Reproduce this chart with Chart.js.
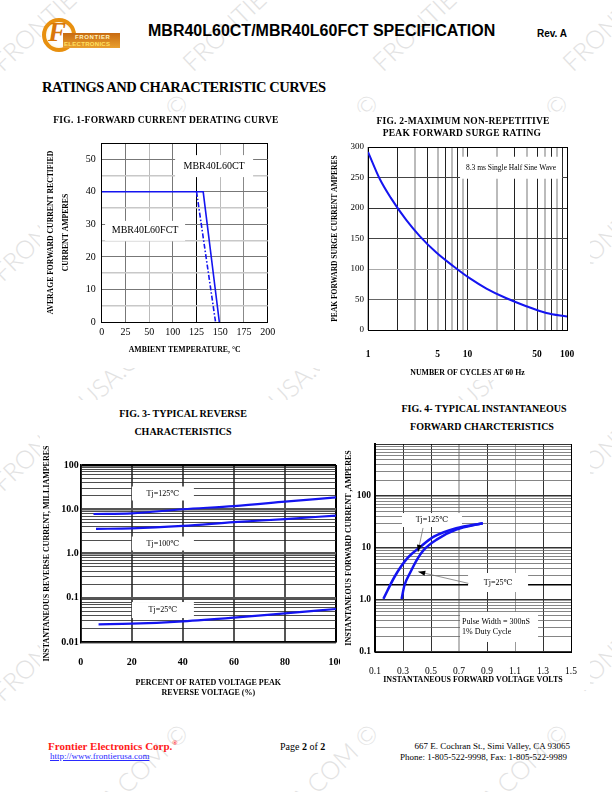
<!DOCTYPE html>
<html>
<head>
<meta charset="utf-8">
<script src="https://cdn.jsdelivr.net/npm/chart.js@4.4.1/dist/chart.umd.min.js"></script>
<style>
  body { margin: 0; width: 612px; height: 792px; position: relative; overflow: hidden; background: #fff; font-family: "Liberation Serif", serif; color: #000; }
  .t { position: absolute; white-space: nowrap; line-height: 1; z-index: 3; }
  .c { text-align: center; }
  canvas { position: absolute; background: #fff; z-index: 2; }
  .wm { position: absolute; white-space: nowrap; font: 300 25px/1 Lato, sans-serif; color: #e2e2e2; transform: rotate(-43.5deg); transform-origin: 0 100%; z-index: 0; }
  .panel { position: absolute; background: #fff; z-index: 1; }
  .ft { font: bold 9.5px/1 "Liberation Serif"; letter-spacing: 0.25px; }
  .ft2 { font: bold 10px/1 "Liberation Serif"; }
</style>
</head>
<body>
<div id="wm"></div>
<div class="panel" style="left:40px;top:112px;width:538px;height:256px;"></div>
<div class="panel" style="left:40px;top:400px;width:538px;height:302px;"></div>

<!-- header -->
<div style="position:absolute;z-index:3;left:42px;top:18px;width:26px;height:26px;border-radius:50%;border:4.5px solid #e8900f;background:radial-gradient(circle,#fff 0 55%,#fde7b0 100%);"></div>
<div class="t" style="left:48px;top:19px;font:italic bold 27px/1 'Liberation Serif';color:#d9770a;">F</div>
<div style="position:absolute;z-index:3;left:63px;top:33px;width:57px;height:15px;background:linear-gradient(#c86a10,#e9a030);"></div>
<div class="t" style="left:75px;top:34px;font:bold 6px/1 'Liberation Sans';color:#fff4c0;letter-spacing:0.6px;">FRONTIER</div>
<div class="t" style="left:64px;top:41px;font:bold 6px/1 'Liberation Sans';color:#ffe060;letter-spacing:0.3px;">ELECTRONICS</div>
<div class="t" style="left:148px;top:22.5px;font:bold 16px/1 'Liberation Sans';">MBR40L60CT/MBR40L60FCT SPECIFICATION</div>
<div class="t" style="left:537px;top:28.5px;font:bold 10px/1 'Liberation Sans';">Rev. A</div>
<div class="t" style="left:42px;top:80px;font:bold 14.5px/1 'Liberation Serif';letter-spacing:-0.45px;">RATINGS AND CHARACTERISTIC CURVES</div>

<!-- figure titles -->
<div class="t c ft" style="left:46px;width:240px;top:116px;">FIG. 1-FORWARD CURRENT DERATING CURVE</div>
<div class="t c ft" style="left:343px;width:240px;top:117px;">FIG. 2-MAXIMUM NON-REPETITIVE</div>
<div class="t c ft" style="left:342px;width:240px;top:128.5px;">PEAK FORWARD SURGE RATING</div>
<div class="t c ft2" style="left:63px;width:240px;top:409px;">FIG. 3- TYPICAL REVERSE</div>
<div class="t c ft2" style="left:63px;width:240px;top:426.6px;">CHARACTERISTICS</div>
<div class="t c ft2" style="left:364px;width:240px;top:403.6px;">FIG. 4- TYPICAL INSTANTANEOUS</div>
<div class="t c ft2" style="left:362px;width:240px;top:421.6px;">FORWARD CHARCTERISTICS</div>

<canvas id="fig1" width="240" height="225" style="left:40px;top:135px;"></canvas>
<canvas id="fig2" width="270" height="240" style="left:320px;top:140px;"></canvas>
<canvas id="fig4" width="250" height="255" style="left:340px;top:435px;"></canvas>
<canvas id="fig3" width="300" height="260" style="left:40px;top:440px;"></canvas>

<!-- footer -->
<div class="t" style="left:48px;top:740.8px;font:bold 11px/1 'Liberation Serif';color:#ff1a1a;">Frontier Electronics Corp.<span style="font-size:7px;position:relative;top:-5px;">®</span></div>
<div class="t" style="left:50px;top:752.4px;font:9px/1 'Liberation Serif';color:#2a2aff;text-decoration:underline;">http://www.frontierusa.com</div>
<div class="t" style="left:280px;top:741.6px;font:10px/1 'Liberation Serif';">Page <b>2</b> of <b>2</b></div>
<div class="t" style="right:42px;top:742.4px;font:9px/1 'Liberation Serif';text-align:right;">667 E. Cochran St., Simi Valley, CA 93065</div>
<div class="t" style="right:45px;top:753.4px;font:9px/1 'Liberation Serif';text-align:right;">Phone: 1-805-522-9998, Fax: 1-805-522-9989</div>

<script>
// Fig. 1 - forward current derating (x labels as printed, 75 is missing)
const deratingTicks = [0, 25, 50, 100, 125, 150, 175, 200];
const ctTemp = [0, 132, 149];
const ctAmps = [40, 40, 0];
const fctTemp = [125, 145];
const fctAmps = [40, 0];

// Fig. 2 - peak forward surge rating
const surgeCycles = [1, 1.31, 1.69, 2.43, 3.31, 4.86, 7.16, 10.5, 15.5, 24.6, 39, 62, 100];
const surgeAmps = [292, 248, 217, 180, 154, 127, 105, 85, 68, 52, 39, 28, 22];
const surgeXLabels = [1, 5, 10, 50, 100];

// Fig. 3 - typical reverse characteristics (mA vs % of rated voltage)
const rev125Pct = [5, 20, 40, 60, 80, 100];
const rev125mA = [7.8, 8.1, 10.0, 11.8, 14.8, 18.6];
const rev100Pct = [6, 20, 40, 60, 80, 100];
const rev100mA = [3.6, 3.7, 4.2, 5.1, 6.0, 7.2];
const rev25Pct = [7, 20, 40, 60, 80, 100];
const rev25mA = [0.0251, 0.0259, 0.0293, 0.0355, 0.0445, 0.0557];
const revXLabels = ['0', '20', '40', '60', '80', '100'];
const revYTicks = [0.01, 0.1, 1, 10, 100];
const revYLabels = ['0.01', '0.1', '1.0', '10.0', '100'];

// Fig. 4 - typical instantaneous forward characteristics
const fwd125V = [0.16, 0.24, 0.33, 0.42, 0.52, 0.68, 0.87];
const fwd125A = [1.05, 2.8, 6.3, 10.3, 16.5, 24, 29.9];
const fwd25V = [0.29, 0.31, 0.35, 0.40, 0.45, 0.54, 0.68, 0.87];
const fwd25A = [1.05, 1.9, 3.3, 6.0, 9.3, 14.5, 22.5, 29.9];
const fwdXTicks = [0.1, 0.3, 0.5, 0.7, 0.9, 1.1, 1.3, 1.5];
const fwdYTicks = [0.1, 1, 10, 100];
const fwdYLabels = ['0.1', '1.0', '10', '100'];

const blue = '#1414f0';
const logMinor = [1, 2, 3, 4, 5, 6, 7, 8, 9];

// watermark
const wm = document.getElementById('wm');
for (let i = 0; i < 4; i++) {
    for (let j = -1; j < 4; j++) {
        const s = document.createElement('div');
        s.className = 'wm';
        s.textContent = 'FRONTIERUSA.COM ©';
        s.style.left = (5 + 190 * i) + 'px';
        s.style.top = (285 + 210 * j - 25) + 'px';
        wm.appendChild(s);
    }
}

Chart.defaults.font.family = "'Liberation Serif', 'DejaVu Serif', serif";
Chart.defaults.color = '#000';

// gridline values of a log axis: 1..9 of every decade, plus the top
function logGrid(lo, hi) {
    const out = [];
    for (let d = lo; d < hi; d *= 10) {
        logMinor.forEach(m => out.push(+(d * m).toPrecision(3)));
    }
    out.push(hi);
    return out;
}

// place a temperature on the printed (uneven) tick grid of fig. 1
function toGrid(t) {
    for (let i = 0; i < deratingTicks.length - 1; i++) {
        const a = deratingTicks[i], b = deratingTicks[i + 1];
        if (t <= b) return i + (t - a) / (b - a);
    }
    return deratingTicks.length - 1;
}

function pts(xs, ys, fx) {
    return xs.map((v, i) => ({ x: fx ? fx(v) : v, y: ys[i] }));
}

function noPad(s) {
    s.paddingLeft = s.paddingRight = s.paddingTop = s.paddingBottom = 0;
}

// labels in white boxes, arrows
const notes = {
    id: 'notes',
    beforeDatasetsDraw(chart, args, o) {
        const { ctx, scales: { x, y } } = chart;
        const size = o.size || 8;
        ctx.save();
        for (const b of o.boxes || []) {
            const px = x.getPixelForValue(b.x), py = y.getPixelForValue(b.y);
            ctx.fillStyle = '#fff';
            ctx.fillRect(px - b.w / 2, py - b.h / 2, b.w, b.h);
            ctx.fillStyle = '#000';
            ctx.font = size + "px 'Liberation Serif', 'DejaVu Serif'";
            ctx.textBaseline = 'middle';
            const lines = [].concat(b.text);
            lines.forEach((t, i) => {
                const ty = py + (i - (lines.length - 1) / 2) * size * 1.35;
                if (b.left) {
                    ctx.textAlign = 'left';
                    ctx.fillText(t, px - b.w / 2 + 2, ty);
                } else {
                    ctx.textAlign = 'center';
                    ctx.fillText(t, px, ty);
                }
            });
        }
        ctx.restore();
    },
    afterDatasetsDraw(chart, args, o) {
        const { ctx, scales: { x, y } } = chart;
        ctx.save();
        for (const a of o.arrows || []) {
            const x0 = x.getPixelForValue(a.from[0]), y0 = y.getPixelForValue(a.from[1]);
            const x1 = x.getPixelForValue(a.to[0]), y1 = y.getPixelForValue(a.to[1]);
            ctx.strokeStyle = '#777';
            ctx.lineWidth = 0.8;
            ctx.beginPath();
            ctx.moveTo(x0, y0);
            ctx.lineTo(x1, y1);
            ctx.stroke();
            const ang = Math.atan2(y1 - y0, x1 - x0);
            ctx.fillStyle = '#000';
            ctx.beginPath();
            ctx.moveTo(x1, y1);
            ctx.lineTo(x1 - 7 * Math.cos(ang) + 2.5 * Math.sin(ang), y1 - 7 * Math.sin(ang) - 2.5 * Math.cos(ang));
            ctx.lineTo(x1 - 7 * Math.cos(ang) - 2.5 * Math.sin(ang), y1 - 7 * Math.sin(ang) + 2.5 * Math.cos(ang));
            ctx.closePath();
            ctx.fill();
        }
        ctx.restore();
    }
};

const base = {
    responsive: false,
    animation: false,
    devicePixelRatio: 1,
    elements: { point: { radius: 0 } }
};

// ---------- Fig. 3 ----------
const revYGridTicks = logGrid(0.01, 100);

new Chart(document.getElementById('fig3'), {
    type: 'line',
    data: {
        datasets: [{
            label: 'Tj=125℃',
            data: pts(rev125Pct, rev125mA),
            borderColor: blue, borderWidth: 2.2, cubicInterpolationMode: 'monotone'
        }, {
            label: 'Tj=100℃',
            data: pts(rev100Pct, rev100mA),
            borderColor: blue, borderWidth: 2.2, cubicInterpolationMode: 'monotone'
        }, {
            label: 'Tj=25℃',
            data: pts(rev25Pct, rev25mA),
            borderColor: blue, borderWidth: 2.2, cubicInterpolationMode: 'monotone'
        }]
    },
    options: {
        ...base,
        layout: { padding: { top: 25, right: 4 } },
        plugins: {
            legend: { display: false },
            tooltip: { enabled: false },
            notes: {
                size: 8,
                boxes: [
                    { x: 32.2, y: 22.7, w: 62, h: 14, text: 'Tj=125℃' },
                    { x: 32.2, y: 1.68, w: 62, h: 14, text: 'Tj=100℃' },
                    { x: 32.2, y: 0.0528, w: 62, h: 16, text: 'Tj=25℃' }
                ]
            }
        },
        scales: {
            x: {
                type: 'linear', min: 0, max: 100,
                afterFit: s => { s.height = 58; noPad(s); },
                ticks: { stepSize: 20, callback: (v, i) => revXLabels[i], font: { size: 10, weight: 'bold' }, padding: 14, maxRotation: 0, autoSkip: false },
                grid: { color: c => c.tick.value === 100 ? '#000' : '#555', lineWidth: 2, drawTicks: false },
                border: { color: '#000', width: 1.5 },
                title: {
                    display: true,
                    text: ['PERCENT OF RATED VOLTAGE PEAK', 'REVERSE VOLTAGE (%)'],
                    font: { size: 8, weight: 'bold', lineHeight: 1.25 },
                    padding: { top: 0, bottom: 2 }
                }
            },
            y: {
                type: 'logarithmic', min: 0.01, max: 100,
                afterBuildTicks: s => { s.ticks = revYGridTicks.map(v => ({ value: v })); },
                afterFit: s => { s.width = 40.7; noPad(s); },
                ticks: {
                    callback: v => { const i = revYTicks.indexOf(v); return i >= 0 ? revYLabels[i] : ''; },
                    font: { size: 10, weight: 'bold' }, padding: 2, autoSkip: false
                },
                grid: {
                    color: c => c.tick.value === 100 ? '#000' : revYTicks.includes(c.tick.value) ? '#555' : '#222',
                    lineWidth: c => revYTicks.includes(c.tick.value) ? 2.5 : 0.8,
                    drawTicks: false
                },
                border: { color: '#000', width: 1.5 },
                title: { display: true, text: 'INSTANTANEOUS REVERSE CURRENT, MILLIAMPERES', font: { size: 8, weight: 'bold' }, padding: { top: 2.2, bottom: 0 } }
            }
        }
    },
    plugins: [notes]
});

// ---------- Fig. 1 ----------
const fig1XGrid = ['#000', '#777', '#bbb', '#777', '#000', '#bbb', '#888', '#000'];

new Chart(document.getElementById('fig1'), {
    type: 'line',
    data: {
        datasets: [{
            label: 'MBR40L60CT',
            data: pts(ctTemp, ctAmps, toGrid),
            borderColor: blue,
            borderWidth: 1.6
        }, {
            label: 'MBR40L60FCT',
            data: pts(fctTemp, fctAmps, toGrid),
            borderColor: blue,
            borderWidth: 1.6,
            borderDash: [5, 2, 1.5, 2]
        }]
    },
    options: {
        ...base,
        layout: { padding: { top: 8, right: 12.3 } },
        plugins: {
            legend: { display: false },
            tooltip: { enabled: false },
            notes: {
                size: 10,
                boxes: [
                    { x: 4.74, y: 47.9, w: 78, h: 22, text: 'MBR40L60CT' },
                    { x: 1.83, y: 28, w: 80, h: 20, text: 'MBR40L60FCT' }
                ]
            }
        },
        scales: {
            x: {
                type: 'linear', min: 0, max: 7,
                afterBuildTicks: s => { s.ticks = deratingTicks.map((_, i) => ({ value: i })); },
                afterFit: s => { s.height = 38; noPad(s); },
                ticks: { callback: (v, i) => deratingTicks[i], font: { size: 10 }, padding: 4, autoSkip: false, maxRotation: 0 },
                grid: { color: c => fig1XGrid[c.index], drawTicks: false },
                border: { color: '#000' },
                title: { display: true, text: 'AMBIENT TEMPERATURE, °C', font: { size: 7.8, weight: 'bold' }, padding: { top: 0, bottom: 5.3 } }
            },
            y: {
                min: 0, max: 55,
                afterFit: s => { s.width = 61.7; noPad(s); },
                ticks: { stepSize: 5, callback: v => v % 10 === 0 ? v : '', font: { size: 10 }, padding: 6, autoSkip: false },
                grid: {
                    color: c => c.tick.value === 55 ? '#000' : c.tick.value % 10 === 0 ? '#777' : '#c8c8c8',
                    lineWidth: c => c.tick.value % 10 === 0 || c.tick.value === 55 ? 1 : 1.6,
                    drawTicks: false
                },
                border: { color: '#000' },
                title: {
                    display: true,
                    text: ['AVERAGE FORWARD CURRENT RECTIFIED', 'CURRENT AMPERES'],
                    font: { size: 7.7, weight: 'bold', lineHeight: 2 },
                    padding: { top: 3.3, bottom: 0 }
                }
            }
        }
    },
    plugins: [notes]
});

// ---------- Fig. 2 ----------
const surgeXGridTicks = logGrid(1, 100);
const surgeYGrid = ['#000', '#666', '#aaa', '#444', '#333', '#444', '#000'];

new Chart(document.getElementById('fig2'), {
    type: 'line',
    data: {
        datasets: [{
            label: 'Peak forward surge current',
            data: pts(surgeCycles, surgeAmps),
            borderColor: blue,
            borderWidth: 2,
            cubicInterpolationMode: 'monotone'
        }]
    },
    options: {
        ...base,
        layout: { padding: { top: 7, right: 23 } },
        plugins: {
            legend: { display: false },
            tooltip: { enabled: false },
            notes: {
                size: 7.5,
                boxes: [{ x: 27.4, y: 266, w: 102, h: 22, text: '8.3 ms Single Half Sine Wave' }]
            }
        },
        scales: {
            x: {
                type: 'logarithmic', min: 1, max: 100,
                afterBuildTicks: s => { s.ticks = surgeXGridTicks.map(v => ({ value: v })); },
                afterFit: s => { s.height = 50; noPad(s); },
                ticks: { callback: v => surgeXLabels.includes(v) ? v : '', font: { size: 9.5, weight: 'bold' }, padding: 19.3, autoSkip: false, maxRotation: 0 },
                grid: {
                    color: c => c.tick.value === 100 ? '#000' : c.index % 2 === 1 ? '#222' : '#bbb',
                    lineWidth: c => c.index % 2 === 1 || c.tick.value === 100 ? 1 : 2,
                    drawTicks: false
                },
                border: { color: '#000' },
                title: { display: true, text: 'NUMBER OF CYCLES AT 60 Hz', font: { size: 7.8, weight: 'bold' }, padding: { top: 0, bottom: 2.3 } }
            },
            y: {
                min: 0, max: 300,
                afterFit: s => { s.width = 48; noPad(s); },
                ticks: { stepSize: 50, font: { size: 9 }, padding: 4, autoSkip: false },
                grid: { color: c => surgeYGrid[c.index], drawTicks: false },
                border: { color: '#000' },
                title: { display: true, text: 'PEAK FORWARD SURGE CURRENT AMPERES', font: { size: 7.5, weight: 'bold' }, padding: { top: 10.5, bottom: 0 } }
            }
        }
    },
    plugins: [notes]
});

// ---------- Fig. 4 ----------
const fwdYGridTicks = logGrid(0.1, 1000);
const fig4XGrid = ['#000', '#333', '#333', '#bbb', '#333', '#999', '#333', '#000'];

new Chart(document.getElementById('fig4'), {
    type: 'line',
    data: {
        datasets: [{
            label: 'Tj=125℃',
            data: pts(fwd125V, fwd125A),
            borderColor: blue, borderWidth: 2.5, cubicInterpolationMode: 'monotone'
        }, {
            label: 'Tj=25℃',
            data: pts(fwd25V, fwd25A),
            borderColor: blue, borderWidth: 2.5, cubicInterpolationMode: 'monotone'
        }]
    },
    options: {
        ...base,
        layout: { padding: { top: 9, right: 19 } },
        plugins: {
            legend: { display: false },
            tooltip: { enabled: false },
            notes: {
                size: 8,
                boxes: [
                    { x: 0.507, y: 34.5, w: 60, h: 14, text: 'Tj=125℃' },
                    { x: 0.979, y: 2.17, w: 60, h: 19, text: 'Tj=25℃' },
                    { x: 0.986, y: 0.303, w: 78, h: 30, left: true, text: ['Pulse Width = 300nS', '1% Duty Cycle'] }
                ],
                arrows: [
                    { from: [0.443, 24.3], to: [0.407, 8.4] },
                    { from: [0.767, 2.09], to: [0.409, 3.5] }
                ]
            }
        },
        scales: {
            x: {
                type: 'linear', min: 0.1, max: 1.5,
                afterBuildTicks: s => { s.ticks = fwdXTicks.map(v => ({ value: v })); },
                afterFit: s => { s.height = 38; noPad(s); },
                ticks: { callback: v => v.toFixed(1), font: { size: 9.5 }, padding: 13.3, autoSkip: false, maxRotation: 0 },
                grid: { color: c => fig4XGrid[c.index], lineWidth: c => c.index === 3 ? 2 : 1, drawTicks: false },
                border: { color: '#000' },
                title: { display: true, text: 'INSTANTANEOUS FORWARD VOLTAGE VOLTS', font: { size: 8, weight: 'bold' }, padding: { top: 0, bottom: 5.2 } }
            },
            y: {
                type: 'logarithmic', min: 0.1, max: 1000,
                afterBuildTicks: s => { s.ticks = fwdYGridTicks.map(v => ({ value: v })); },
                afterFit: s => { s.width = 35; noPad(s); },
                ticks: {
                    callback: v => { const i = fwdYTicks.indexOf(v); return i >= 0 ? fwdYLabels[i] : ''; },
                    font: { size: 9.5, weight: 'bold' }, padding: 4, autoSkip: false
                },
                grid: {
                    color: c => c.tick.value === 1000 || c.tick.value === 2 ? '#000' : fwdYTicks.includes(c.tick.value) ? '#333' : '#666',
                    lineWidth: c => fwdYTicks.includes(c.tick.value) || c.tick.value === 2 ? 1.5 : 0.8,
                    drawTicks: false
                },
                border: { color: '#000', width: 2 },
                title: { display: true, text: 'INSTANTANEOUS FORWARD CURRENT ,AMPERES', font: { size: 8, weight: 'bold' }, padding: { top: 4.2, bottom: 0 } }
            }
        }
    },
    plugins: [notes]
});
</script>
</body>
</html>
